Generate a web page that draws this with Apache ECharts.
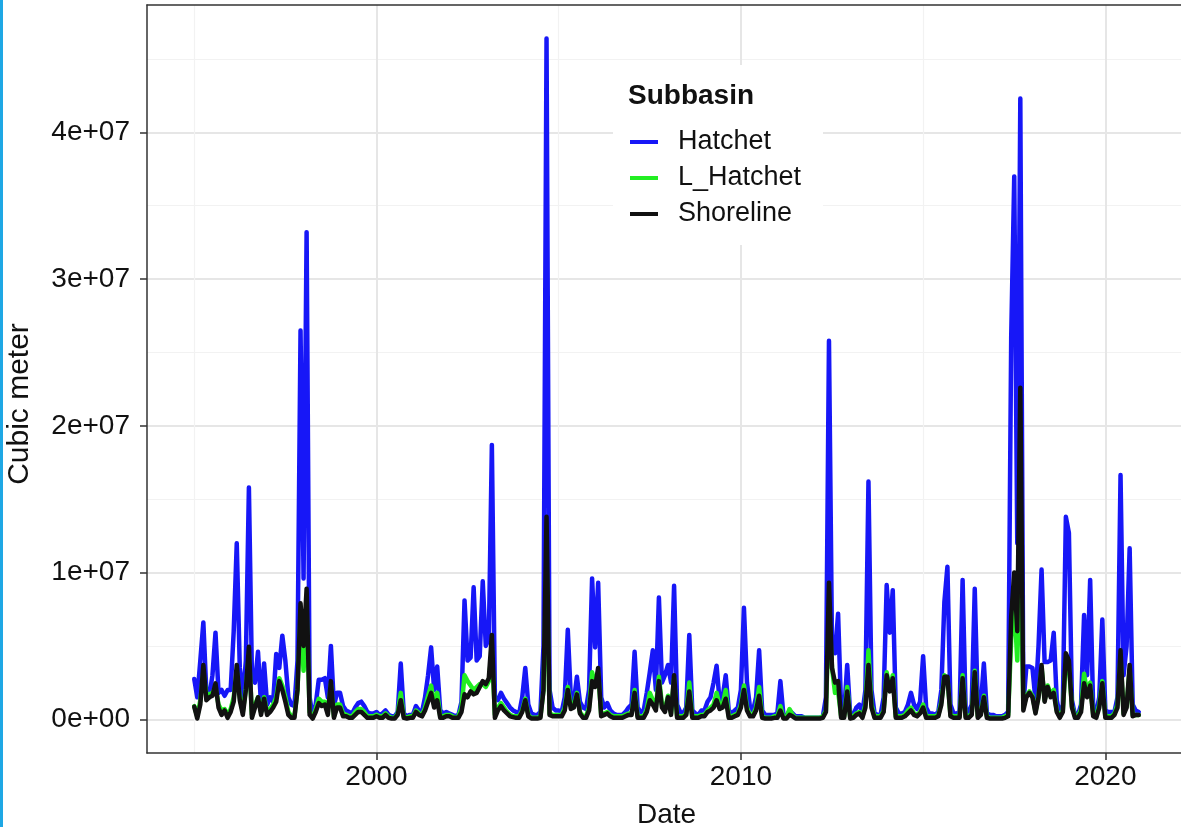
<!DOCTYPE html>
<html>
<head>
<meta charset="utf-8">
<script src="https://cdn.jsdelivr.net/npm/echarts@6/dist/echarts.min.js"></script>
<style>
html,body{margin:0;padding:0;background:#fff;}
#c{width:1181px;height:827px;}
</style>
</head>
<body>
<div id="c"></div>
<script>
// Monthly series, Jan 1995 .. Dec 2020, values in millions of cubic meters
const START_YEAR = 1995;
const seriesNames = ['Hatchet', 'L_Hatchet', 'Shoreline'];
const xTickLabels = [2000, 2010, 2020];
const xMinorTicks = [1995, 2005, 2015];
const yTickValues = [0, 10, 20, 30, 40];      // millions -> 0e+00 .. 4e+07
const yMinorTicks = [5, 15, 25, 35, 45];

const hatchet = [
 2.75,1.5,4.0,6.6,1.8,1.6,3.0,5.9,1.8,2.0,1.6,2.0,
 2.0,6.0,12.0,3.5,1.5,4.0,15.8,3.0,2.5,4.6,1.0,3.8,
 1.0,1.5,1.2,4.45,3.5,5.7,4.0,1.5,1.0,0.9,4.0,26.5,
 9.6,33.2,1.5,0.2,1.0,2.7,2.7,2.8,1.5,5.0,0.9,1.8,
 1.8,0.9,0.6,0.5,0.4,0.8,1.1,1.2,0.9,0.5,0.4,0.4,
 0.5,0.3,0.4,0.6,0.3,0.2,0.2,0.5,3.8,0.4,0.2,0.3,
 0.3,0.9,0.6,0.5,1.5,3.0,4.9,2.0,3.6,0.6,0.4,0.5,
 0.4,0.3,0.2,0.3,1.2,8.1,4.0,4.2,9.0,4.0,4.3,9.4,
 5.0,5.5,18.7,1.5,1.3,1.8,1.4,1.1,0.8,0.6,0.5,0.4,
 1.5,3.5,1.0,0.4,0.3,0.3,0.5,5.0,46.4,2.0,0.8,0.6,
 0.6,0.5,1.5,6.1,1.5,1.2,2.9,1.2,0.8,0.7,2.0,9.6,
 4.9,9.3,1.5,0.8,1.1,0.6,0.4,0.3,0.3,0.3,0.5,0.8,
 1.0,4.6,0.8,0.5,0.6,1.8,3.2,4.7,2.0,8.3,2.5,3.0,
 3.7,2.5,9.1,1.0,0.5,0.4,0.8,5.75,0.6,0.4,0.3,0.6,
 0.6,1.2,1.5,2.5,3.65,1.2,1.5,3.0,0.6,0.4,0.6,0.8,
 2.0,7.6,2.5,0.8,0.6,1.5,4.7,0.6,0.3,0.3,0.3,0.3,
 0.4,2.6,0.3,0.2,0.6,0.4,0.2,0.2,0.2,0.1,0.1,0.1,
 0.1,0.1,0.1,0.2,1.5,25.8,5.0,4.5,7.2,0.7,0.5,3.7,
 0.3,0.3,0.8,1.0,0.4,2.0,16.2,2.0,0.4,0.3,0.3,1.5,
 9.15,5.9,8.8,0.8,0.4,0.4,0.5,1.0,1.8,1.0,0.7,1.2,
 4.3,0.8,0.4,0.4,0.3,0.5,2.0,8.0,10.4,1.0,0.4,0.4,
 0.5,9.5,0.7,0.5,1.0,8.9,0.8,1.0,3.8,0.4,0.3,0.3,
 0.2,0.2,0.2,0.3,0.5,26.0,37.0,12.0,42.3,1.0,3.6,3.6,
 3.5,1.3,5.0,10.2,3.9,3.9,4.0,5.9,1.3,0.3,1.0,13.8,
 12.7,1.3,0.3,0.3,1.0,7.1,3.0,9.5,0.7,0.5,1.5,6.8,
 0.6,0.5,0.5,0.5,1.5,16.65,3.0,5.0,11.65,1.0,0.6,0.5
];

const lHatchet = [
 0.9,0.2,1.3,3.2,1.7,1.7,1.8,2.2,1.0,0.6,0.7,0.3,
 0.7,1.5,3.3,1.5,0.5,2.1,4.5,0.3,1.0,1.5,0.5,1.5,
 0.5,0.7,1.0,1.5,2.8,2.3,1.5,0.5,0.2,0.2,2.0,7.0,
 3.3,7.5,0.5,0.1,0.7,1.4,1.2,1.2,0.5,2.4,0.2,1.0,
 1.0,0.4,0.3,0.2,0.2,0.5,0.7,0.7,0.5,0.2,0.2,0.2,
 0.3,0.2,0.2,0.4,0.2,0.1,0.1,0.4,1.8,0.2,0.1,0.2,
 0.2,0.6,0.4,0.3,0.8,1.6,2.3,1.0,1.8,0.2,0.2,0.3,
 0.3,0.2,0.1,0.2,0.8,3.0,2.6,2.3,2.0,2.2,2.4,2.4,
 2.2,2.6,4.8,0.3,0.8,1.1,0.8,0.5,0.3,0.2,0.2,0.2,
 0.6,1.4,0.3,0.1,0.1,0.1,0.2,2.0,11.0,0.4,0.3,0.3,
 0.3,0.3,0.8,2.2,0.9,1.0,1.8,0.5,0.2,0.2,0.8,3.2,
 2.4,3.2,0.3,0.4,0.5,0.3,0.2,0.2,0.2,0.2,0.3,0.4,
 0.4,2.0,0.2,0.2,0.2,0.7,1.8,1.3,0.8,2.9,1.0,0.7,
 1.6,0.4,2.8,0.2,0.2,0.2,0.4,2.5,0.2,0.2,0.2,0.3,
 0.3,0.6,0.8,1.0,1.8,0.9,1.0,2.0,0.2,0.2,0.3,0.4,
 1.0,2.3,0.8,0.3,0.3,0.8,2.2,0.2,0.1,0.1,0.1,0.2,
 0.2,0.9,0.1,0.1,0.7,0.3,0.1,0.1,0.1,0.1,0.1,0.1,
 0.1,0.1,0.1,0.2,0.6,7.5,3.5,1.8,1.9,0.2,0.2,2.2,
 0.1,0.2,0.4,0.5,0.2,1.0,4.7,1.0,0.2,0.2,0.2,0.6,
 3.2,2.0,3.0,0.2,0.2,0.2,0.3,0.6,0.8,0.4,0.3,0.5,
 1.0,0.2,0.2,0.2,0.2,0.3,1.2,3.0,2.8,0.3,0.2,0.2,
 0.2,3.0,0.2,0.2,0.4,3.3,0.2,0.4,1.6,0.2,0.1,0.1,
 0.1,0.1,0.1,0.2,0.3,5.5,8.0,4.0,12.0,0.8,1.6,1.9,
 1.6,0.5,1.6,3.5,1.3,2.3,1.7,2.0,0.6,0.2,0.6,4.0,
 3.6,0.9,0.2,0.2,0.7,3.1,1.8,2.5,0.3,0.2,1.0,2.6,
 0.2,0.2,0.2,0.4,1.0,4.2,0.4,0.9,3.4,0.3,0.3,0.3
];

const shoreline = [
 0.86,0.05,1.0,3.7,1.3,1.5,1.6,2.45,0.8,0.3,0.6,0.1,
 0.5,1.2,3.7,1.3,0.3,2.0,4.95,0.1,0.8,1.5,0.3,1.4,
 0.3,0.5,0.8,1.2,2.6,2.0,1.2,0.3,0.1,0.1,2.0,7.9,
 5.0,8.9,0.3,0.05,0.5,1.1,0.9,1.0,0.3,2.6,0.1,0.8,
 0.8,0.2,0.2,0.1,0.1,0.3,0.5,0.5,0.3,0.1,0.1,0.1,
 0.2,0.1,0.1,0.3,0.1,0.05,0.05,0.3,1.3,0.1,0.05,0.1,
 0.1,0.5,0.3,0.2,0.6,1.2,1.8,0.8,1.3,0.1,0.1,0.2,
 0.2,0.1,0.1,0.1,0.5,1.7,1.5,1.9,1.7,1.8,2.2,2.6,
 2.4,2.8,5.75,0.1,0.6,0.9,0.6,0.4,0.2,0.15,0.1,0.1,
 0.5,1.3,0.2,0.05,0.05,0.05,0.1,2.0,13.8,0.3,0.2,0.2,
 0.2,0.2,0.6,2.0,0.7,0.8,1.7,0.4,0.1,0.1,0.6,2.6,
 2.2,3.5,0.2,0.3,0.4,0.2,0.1,0.1,0.1,0.1,0.2,0.3,
 0.3,1.8,0.1,0.1,0.1,0.5,1.3,1.0,0.6,2.6,0.8,0.5,
 1.5,0.3,3.0,0.1,0.1,0.1,0.3,1.9,0.1,0.1,0.1,0.2,
 0.2,0.5,0.6,0.8,1.3,0.7,0.8,1.4,0.1,0.1,0.2,0.3,
 0.8,2.0,0.6,0.2,0.2,0.6,1.6,0.1,0.05,0.05,0.05,0.1,
 0.1,0.6,0.05,0.05,0.3,0.2,0.05,0.05,0.05,0.05,0.05,0.05,
 0.05,0.05,0.05,0.1,0.5,9.3,3.5,2.5,2.6,0.1,0.1,1.9,
 0.05,0.1,0.3,0.4,0.1,0.8,3.7,0.8,0.1,0.1,0.1,0.5,
 3.0,1.9,2.8,0.1,0.1,0.1,0.2,0.4,0.6,0.3,0.2,0.4,
 0.8,0.1,0.1,0.1,0.1,0.2,1.0,2.9,2.9,0.2,0.1,0.1,
 0.1,2.8,0.1,0.1,0.3,3.2,0.1,0.3,1.5,0.1,0.05,0.05,
 0.05,0.05,0.05,0.1,0.2,7.0,10.0,6.0,22.6,0.6,1.5,1.8,
 1.5,0.4,1.5,3.7,1.2,2.2,1.5,1.8,0.5,0.1,0.5,4.5,
 4.0,0.8,0.1,0.1,0.5,2.45,1.5,2.3,0.2,0.1,0.8,2.45,
 0.1,0.1,0.1,0.3,0.8,4.7,0.3,0.8,3.7,0.2,0.3,0.3
];

const colors = ['#1717f7', '#22ee22', '#111111'];
const FONT = "'Liberation Sans', Arial, sans-serif";
const BORDER = {show: true, onZero: false, lineStyle: {color: '#333333', width: 1.5}};

function toPairs(vals) {
  return vals.map((v, i) => [START_YEAR + i / 12, v]);
}

const chart = echarts.init(document.getElementById('c'), null, {renderer: 'canvas'});
const X_MIN = 1993.704, X_MAX = 2022.213;
const Y_MIN = -2.298, Y_MAX = 48.68;

const option = {
  animation: false,
  backgroundColor: '#ffffff',
  grid: {left: 147, right: -5, top: 5, bottom: 74, show: false,
    containLabel: false, outerBoundsMode: 'none'},
  xAxis: [{
    type: 'value', min: X_MIN, max: X_MAX, position: 'bottom',
    name: 'Date', nameLocation: 'middle', nameGap: 48,
    nameTextStyle: {fontSize: 28, color: '#111', fontFamily: FONT},
    axisLine: BORDER,
    axisTick: {show: true, length: 7, customValues: xTickLabels, lineStyle: {color: '#333', width: 1.5}},
    axisLabel: {customValues: xTickLabels, fontSize: 28, color: '#111', fontFamily: FONT, margin: 10,
      formatter: v => String(v)},
    splitLine: {show: true, lineStyle: {color: '#e6e6e6', width: 2}}
  }, {
    type: 'value', min: X_MIN, max: X_MAX, position: 'top',
    axisLine: BORDER,
    axisTick: {show: false, customValues: xMinorTicks},
    axisLabel: {show: false, customValues: xMinorTicks},
    splitLine: {show: true, lineStyle: {color: '#f2f2f2', width: 1.2}}
  }],
  yAxis: [{
    type: 'value', min: Y_MIN, max: Y_MAX, position: 'left',
    name: 'Cubic meter', nameLocation: 'middle', nameGap: 112, nameRotate: 90,
    nameTextStyle: {fontSize: 30, color: '#111', fontFamily: FONT, padding: [0, 50, 0, 0]},
    axisLine: BORDER,
    axisTick: {show: true, length: 7, customValues: yTickValues, lineStyle: {color: '#333', width: 1.5}},
    axisLabel: {customValues: yTickValues, fontSize: 28, color: '#111', fontFamily: FONT, margin: 17,
      formatter: v => v === 0 ? '0e+00' : (v / 10) + 'e+07'},
    splitLine: {show: true, lineStyle: {color: '#e6e6e6', width: 2}}
  }, {
    type: 'value', min: Y_MIN, max: Y_MAX, position: 'right',
    axisLine: {show: false},
    axisTick: {show: false, customValues: yMinorTicks},
    axisLabel: {show: false, customValues: yMinorTicks},
    splitLine: {show: true, lineStyle: {color: '#f2f2f2', width: 1.2}}
  }],
  legend: {
    data: seriesNames, orient: 'vertical', left: 630, top: 127, padding: 0,
    icon: 'rect', itemWidth: 28, itemHeight: 4, itemGap: 6, selectedMode: false,
    textStyle: {fontSize: 27, lineHeight: 30, color: '#111', fontFamily: FONT, padding: [0, 0, 0, 15]}
  },
  graphic: [
    {type: 'rect', z: 3, shape: {x: 613, y: 65, width: 210, height: 180}, style: {fill: '#ffffff'}, silent: true},
    {type: 'text', z: 5, x: 628, y: 96, style: {text: 'Subbasin', fontSize: 28, fontWeight: 'bold', fontFamily: FONT, fill: '#111', textVerticalAlign: 'middle'}, silent: true},
    {type: 'rect', z: 10, shape: {x: 0, y: 0, width: 3, height: 827}, style: {fill: '#1ea7e4'}, silent: true}
  ],
  series: [
    {name: 'Hatchet', type: 'line', data: toPairs(hatchet), showSymbol: false, symbol: 'none',
      lineStyle: {color: colors[0], width: 4.5, join: 'round', cap: 'round'}, itemStyle: {color: colors[0]}, z: 2},
    {name: 'L_Hatchet', type: 'line', data: toPairs(lHatchet), showSymbol: false, symbol: 'none',
      lineStyle: {color: colors[1], width: 4.5, join: 'round', cap: 'round'}, itemStyle: {color: colors[1]}, z: 2},
    {name: 'Shoreline', type: 'line', data: toPairs(shoreline), showSymbol: false, symbol: 'none',
      lineStyle: {color: colors[2], width: 4.5, join: 'round', cap: 'round'}, itemStyle: {color: colors[2]}, z: 2}
  ]
};
chart.setOption(option);
</script>
</body>
</html>
